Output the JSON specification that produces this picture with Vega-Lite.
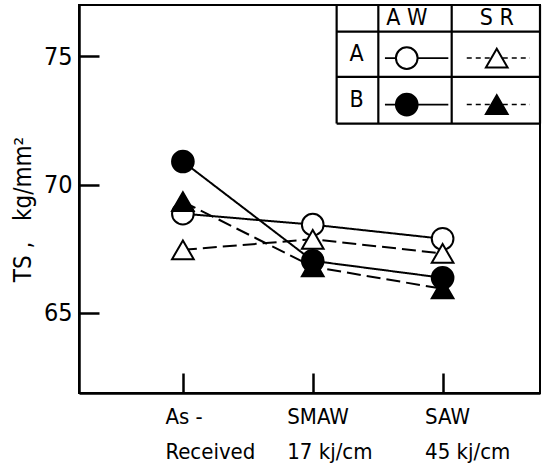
{
  "$schema": "https://vega.github.io/schema/vega-lite/v6.json",
  "width": 461,
  "height": 388,
  "autosize": {"type": "none"},
  "padding": {"left": 79, "top": 5, "right": 3, "bottom": 75},
  "background": "white",
  "config": {
    "view": {"stroke": "black", "strokeWidth": 2},
    "font": "DejaVu Sans Condensed, sans-serif",
    "axis": {
      "domainColor": "black", "domainWidth": 2.5,
      "tickColor": "black", "tickWidth": 2.5,
      "labelColor": "black", "titleColor": "black",
      "labelFont": "DejaVu Sans Condensed, sans-serif",
      "titleFont": "DejaVu Sans Condensed, sans-serif",
      "grid": false
    }
  },
  "datasets": {
    "ts": [
      {"cond": 1, "ts": 68.87, "series": "A AW", "steel": "A", "method": "AW"},
      {"cond": 2, "ts": 68.44, "series": "A AW", "steel": "A", "method": "AW"},
      {"cond": 3, "ts": 67.89, "series": "A AW", "steel": "A", "method": "AW"},
      {"cond": 1, "ts": 67.46, "series": "A SR", "steel": "A", "method": "SR"},
      {"cond": 2, "ts": 67.87, "series": "A SR", "steel": "A", "method": "SR"},
      {"cond": 3, "ts": 67.32, "series": "A SR", "steel": "A", "method": "SR"},
      {"cond": 1, "ts": 70.9, "series": "B AW", "steel": "B", "method": "AW"},
      {"cond": 2, "ts": 67.03, "series": "B AW", "steel": "B", "method": "AW"},
      {"cond": 3, "ts": 66.37, "series": "B AW", "steel": "B", "method": "AW"},
      {"cond": 1, "ts": 69.34, "series": "B SR", "steel": "B", "method": "SR"},
      {"cond": 2, "ts": 66.8, "series": "B SR", "steel": "B", "method": "SR"},
      {"cond": 3, "ts": 65.94, "series": "B SR", "steel": "B", "method": "SR"}
    ],
    "grid": [
      {"x": 2.184, "x2": 3.75, "y": 77, "y2": 77},
      {"x": 2.184, "x2": 3.75, "y": 75.96, "y2": 75.96},
      {"x": 2.184, "x2": 3.75, "y": 74.2, "y2": 74.2},
      {"x": 2.184, "x2": 3.75, "y": 72.38, "y2": 72.38},
      {"x": 2.184, "x2": 2.184, "y": 72.38, "y2": 77},
      {"x": 2.505, "x2": 2.505, "y": 72.38, "y2": 77},
      {"x": 3.07, "x2": 3.07, "y": 72.38, "y2": 77},
      {"x": 3.75, "x2": 3.75, "y": 72.38, "y2": 77}
    ],
    "labels": [
      {"x": 2.724, "y": 76.49, "t": "A W"},
      {"x": 3.417, "y": 76.49, "t": "S R"},
      {"x": 2.338, "y": 75.09, "t": "A"},
      {"x": 2.338, "y": 73.29, "t": "B"}
    ],
    "keys": [
      {"x": 2.724, "x1": 2.556, "x2": 3.044, "y": 74.93, "steel": "A", "method": "AW"},
      {"x": 3.417, "x1": 3.186, "x2": 3.673, "y": 74.93, "steel": "A", "method": "SR"},
      {"x": 2.724, "x1": 2.556, "x2": 3.044, "y": 73.12, "steel": "B", "method": "AW"},
      {"x": 3.417, "x1": 3.186, "x2": 3.673, "y": 73.12, "steel": "B", "method": "SR"}
    ]
  },
  "layer": [
    {
      "data": {"name": "ts"},
      "mark": {"type": "line", "color": "black", "strokeWidth": 2},
      "encoding": {
        "x": {
          "field": "cond", "type": "quantitative",
          "scale": {"domain": [0.2, 3.75], "nice": false, "zero": false},
          "axis": {
            "values": [1, 2, 3], "title": null, "tickSize": -20,
            "labelExpr": "datum.value == 1 ? ['As -', 'Received'] : datum.value == 2 ? ['SMAW', '17 kj/cm'] : ['SAW', '45 kj/cm']",
            "labelAlign": "left",
            "labelOffset": {"condition": {"test": "datum.value == 2", "value": -26}, "value": -18},
            "labelBaseline": "top", "labelPadding": 33, "labelLineHeight": 35,
            "labelFontSize": 22
          }
        },
        "y": {
          "field": "ts", "type": "quantitative",
          "scale": {"domain": [61.88, 77], "nice": false, "zero": false},
          "axis": {
            "values": [65, 70, 75], "tickSize": -20, "labelPadding": 27,
            "labelFontSize": 25, "labelBaseline": "middle",
            "title": "TS ,\u00a0\u00a0 kg/mm²", "titleFontSize": 24, "titleFontWeight": "normal",
            "titleAngle": -90, "titleX": -56, "titleY": 204,
            "titleAlign": "center", "titleBaseline": "middle"
          }
        },
        "detail": {"field": "series"},
        "strokeDash": {
          "field": "method", "type": "nominal",
          "scale": {"domain": ["AW", "SR"], "range": [[1, 0], [14, 6]]},
          "legend": null
        }
      }
    },
    {
      "data": {"name": "ts"},
      "mark": {"type": "point", "filled": true, "stroke": "black", "strokeWidth": 2, "size": 470, "opacity": 1},
      "encoding": {
        "x": {"field": "cond", "type": "quantitative"},
        "y": {"field": "ts", "type": "quantitative"},
        "shape": {"field": "method", "type": "nominal", "scale": {"domain": ["AW", "SR"], "range": ["circle", "triangle-up"]}, "legend": null},
        "fill": {"field": "steel", "type": "nominal", "scale": {"domain": ["A", "B"], "range": ["white", "black"]}, "legend": null}
      }
    },
    {
      "data": {"name": "grid"},
      "mark": {"type": "rule", "color": "black", "strokeWidth": 2.2},
      "encoding": {
        "x": {"field": "x", "type": "quantitative"},
        "x2": {"field": "x2"},
        "y": {"field": "y", "type": "quantitative"},
        "y2": {"field": "y2"}
      }
    },
    {
      "data": {"name": "labels"},
      "mark": {"type": "text", "fontSize": 23, "color": "black", "baseline": "middle", "align": "center"},
      "encoding": {
        "x": {"field": "x", "type": "quantitative"},
        "y": {"field": "y", "type": "quantitative"},
        "text": {"field": "t"}
      }
    },
    {
      "data": {"name": "keys"},
      "transform": [{"filter": "datum.method == 'AW'"}],
      "mark": {"type": "rule", "color": "black", "strokeWidth": 1.8},
      "encoding": {
        "x": {"field": "x1", "type": "quantitative"},
        "x2": {"field": "x2"},
        "y": {"field": "y", "type": "quantitative"}
      }
    },
    {
      "data": {"name": "keys"},
      "transform": [{"filter": "datum.method == 'SR'"}],
      "mark": {"type": "rule", "color": "black", "strokeWidth": 1.5, "strokeDash": [5, 4]},
      "encoding": {
        "x": {"field": "x1", "type": "quantitative"},
        "x2": {"field": "x2"},
        "y": {"field": "y", "type": "quantitative"}
      }
    },
    {
      "data": {"name": "keys"},
      "mark": {"type": "point", "filled": true, "stroke": "black", "strokeWidth": 2, "size": 470, "opacity": 1},
      "encoding": {
        "x": {"field": "x", "type": "quantitative"},
        "y": {"field": "y", "type": "quantitative"},
        "shape": {"field": "method", "type": "nominal"},
        "fill": {"field": "steel", "type": "nominal"}
      }
    }
  ]
}
